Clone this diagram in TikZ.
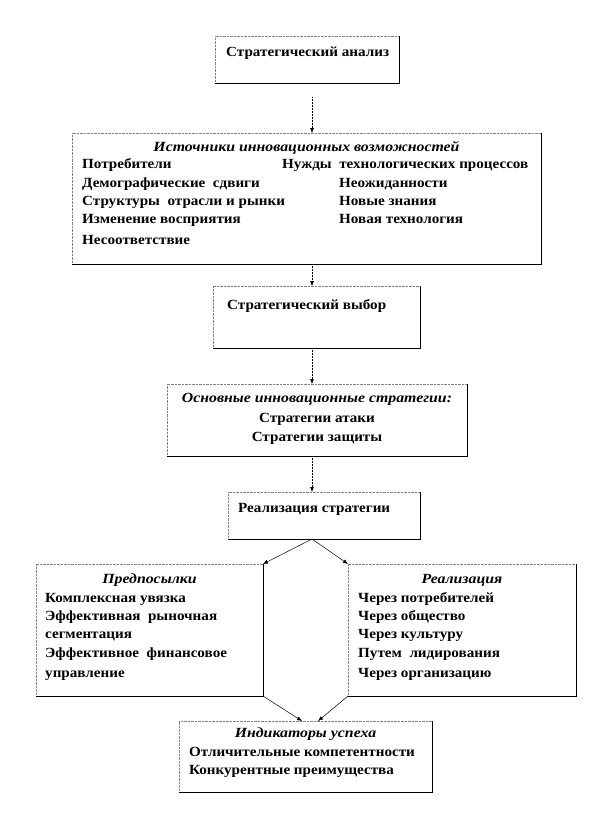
\documentclass[tikz,border=0pt]{standalone}
\usepackage{fontspec}
\setmainfont{Liberation Serif}[FakeStretch=1.08,BoldItalicFeatures={FakeStretch=1.13}]
\usetikzlibrary{positioning,calc,arrows.meta}

\begin{document}
\begin{tikzpicture}[x=1pt,y=-1pt,
        box/.style={anchor=north west,inner sep=0pt,outer sep=0pt},
        txt/.style={inner sep=0pt,anchor=base west,font=\fontsize{14}{16}\selectfont\bfseries},
        ttl/.style={txt,anchor=base,font=\fontsize{14}{16}\selectfont\bfseries\itshape},
        conn/.style={-{Latex[length=5pt,width=4pt]},line width=0.5pt}]
\path[use as bounding box] (0,0) rectangle (612,828);
\coordinate (axis) at (312,0);
% boxes
\node[box,minimum width=184pt,minimum height=47pt] (anal) at (215,36) {};
\node[box,minimum width=469pt,minimum height=131pt] (src) at (72,133) {};
\node[box,minimum width=207pt,minimum height=62pt] (vyb) at (213,286) {};
\node[box,minimum width=300pt,minimum height=72pt] (osn) at (167,384) {};
\node[box,minimum width=192pt,minimum height=47pt] (res) at (228,492) {};
\node[box,minimum width=227pt,minimum height=132pt] (pred) at (36,564) {};
\node[box,minimum width=228pt,minimum height=132pt] (real) at (348,564) {};
\node[box,minimum width=253pt,minimum height=71pt] (ind) at (179,721) {};
\foreach \n in {anal,src,vyb,osn,res,pred,real,ind}{
        \draw[gray,densely dotted] (\n.south west) |- (\n.north east);
        \draw[line width=0.6pt] (\n.north east) |- (\n.south west);}
% texts
\node[txt] (anal-t) at ([shift={(11,20)}]anal.north west) {Стратегический анализ};
\node[ttl] (src-t) at ([yshift=-18pt]src.north) {Источники инновационных возможностей};
\foreach \dy/\t [count=\i] in {35/Потребители,54/Демографические\ \ сдвиги,
        72/Структуры\ \ отрасли и рынки,90/Изменение восприятия,111/Несоответствие}
        \node[txt] (src-l\i) at ([shift={(10,\dy)}]src.north west) {\t};
\node[txt] (src-r1) at ([shift={(210,35)}]src.north west) {Нужды\ \ технологических процессов};
\foreach \dy/\t [count=\i from 2] in {54/Неожиданности,72/Новые знания,90/Новая технология}
        \node[txt] (src-r\i) at ([shift={(267,\dy)}]src.north west) {\t};
\node[txt] (vyb-t) at ([shift={(14,23)}]vyb.north west) {Стратегический выбор};
\node[ttl] (osn-t) at ([yshift=-18pt]osn.north) {Основные инновационные стратегии:};
\node[txt,anchor=base] (osn-l1) at ([yshift=-38pt]osn.north) {Стратегии атаки};
\node[txt,anchor=base] (osn-l2) at ([yshift=-57pt]osn.north) {Стратегии защиты};
\node[txt] (res-t) at ([shift={(10,20)}]res.north west) {Реализация стратегии};
\node[ttl] (pred-t) at ([yshift=-19pt]pred.north) {Предпосылки};
\foreach \dy/\t [count=\i] in {38/Комплексная увязка,56/Эффективная\ \ рыночная,
        74/сегментация,93/Эффективное\ \ финансовое,113/управление}
        \node[txt] (pred-l\i) at ([shift={(9,\dy)}]pred.north west) {\t};
\node[ttl] (real-t) at ([yshift=-19pt]real.north) {Реализация};
\foreach \dy/\t [count=\i] in {38/Через потребителей,56/Через общество,
        74/Через культуру,93/Путем\ \ лидирования,113/Через организацию}
        \node[txt] (real-l\i) at ([shift={(10,\dy)}]real.north west) {\t};
\node[ttl] (ind-t) at ([yshift=-16pt]ind.north) {Индикаторы успеха};
\node[txt] (ind-l1) at ([shift={(10,35)}]ind.north west) {Отличительные компетентности};
\node[txt] (ind-l2) at ([shift={(10,53)}]ind.north west) {Конкурентные преимущества};
% connectors
\draw[conn,densely dotted,shorten <=14pt] (anal.south -| axis) -- (src.north -| axis);
\draw[conn,densely dotted] (src.south -| axis) -- (vyb.north -| axis);
\draw[conn,densely dotted] (vyb.south -| axis) -- (osn.north -| axis);
\draw[conn,densely dotted] (osn.south -| axis) -- (res.north -| axis);
\draw[conn] (res.south -| axis) -- (pred.north east);
\draw[conn] (res.south -| axis) -- (real.north west);
\draw[conn] (pred.south east) -- ($(ind.north -| axis)+(-10,0)$);
\draw[conn] (real.south west) -- ($(ind.north -| axis)+(6,0)$);
\end{tikzpicture}
\end{document}
